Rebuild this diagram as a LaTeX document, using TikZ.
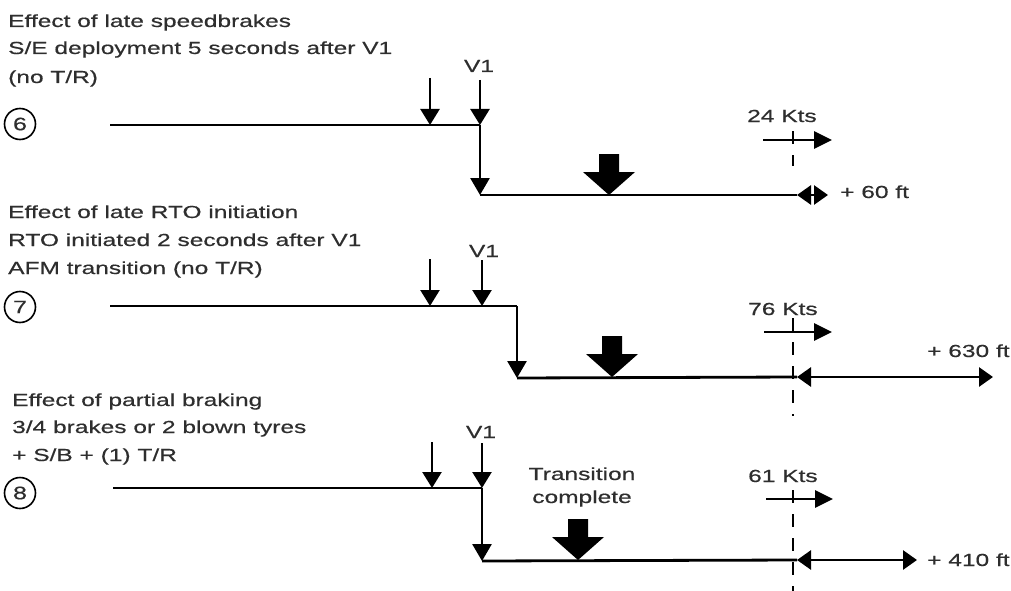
\documentclass[tikz,border=0pt]{standalone}
\usepackage{fontspec}
\setmainfont[FakeStretch=1.4,FakeBold=0.5]{Liberation Sans}
\usetikzlibrary{arrows.meta}
\begin{document}
\begin{tikzpicture}[x=1pt,y=-1pt,
  lbl/.style={font=\fontsize{17.5}{28}\selectfont, text=black!82, inner sep=0pt},
  track/.style={line width=2.8pt},
  downarrow/.style={line width=2.4pt, -{Triangle[width=19pt,length=16pt]}},
  turnarrow/.style={line width=2.8pt, -{Triangle[width=19pt,length=17pt]}},
  ktsarrow/.style={line width=2.8pt, -{Triangle[width=17pt,length=18pt]}},
  dimarrow/.style={line width=2.8pt, {Triangle[width=19pt,length=14pt]}-{Triangle[width=19pt,length=14pt]}},
  dashline/.style={line width=2.6pt, dash pattern=on 13pt off 11pt},
  numcircle/.style={circle, draw, line width=1.6pt, minimum size=31pt, inner sep=0pt, font=\fontsize{18}{18}\selectfont, text=black!82},
  blockarrow/.pic={\fill (-10,-41) -- (10,-41) -- (10,-23) -- (26,-23) -- (0,0) -- (-26,-23) -- (-10,-23) -- cycle;}
]
\useasboundingbox (0,0) rectangle (1011,591);

% ---------------- Panel 6 ----------------
\node[lbl, anchor=base west] (t6a) at (8,27) {Effect of late speedbrakes};
\node[lbl, anchor=base west] (t6b) at (8,54) {S/E deployment 5 seconds after V1};
\node[lbl, anchor=base west] (t6c) at (8,83) {(no T/R)};
\node[numcircle] (c6) at (20,124) {6};
\coordinate (s6) at (110,125);
\coordinate (k6) at (480,125);
\coordinate (b6) at (480,195);
\coordinate (e6) at (797,195);
\coordinate (d6) at (828,195);
\draw[track] (s6) -- (k6);
\draw[turnarrow] (k6) -- (b6);
\draw[track] (b6) -- (e6);
\coordinate (p6) at (430,78);
\coordinate (q6) at (430,125);
\draw[downarrow] (p6) -- (q6);
\coordinate (v6) at (480,80);
\draw[downarrow] (v6) -- (k6);
\node[lbl, anchor=base] (V6) at (479,72) {V1};
\pic at (609,195) {blockarrow};
\node[lbl, anchor=base west] (k6l) at (747,122) {24 Kts};
\coordinate (ka6) at (763,140);
\coordinate (kb6) at (832,140);
\draw[ktsarrow] (ka6) -- (kb6);
\coordinate (da6) at (793,131);
\coordinate (db6) at (793,166);
\draw[dashline] (da6) -- (db6);
\draw[dimarrow] (e6) -- (d6);
\node[lbl, anchor=base west] (f6) at (840,198) {+ 60 ft};

% ---------------- Panel 7 ----------------
\node[lbl, anchor=base west] (t7a) at (8,218) {Effect of late RTO initiation};
\node[lbl, anchor=base west] (t7b) at (8,246) {RTO initiated 2 seconds after V1};
\node[lbl, anchor=base west] (t7c) at (8,274) {AFM transition (no T/R)};
\node[numcircle] (c7) at (20,307) {7};
\coordinate (s7) at (110,306);
\coordinate (k7) at (517,306);
\coordinate (b7) at (517,378);
\coordinate (e7) at (797,377);
\coordinate (d7) at (993,377);
\draw[track] (s7) -- (k7);
\draw[turnarrow] (k7) -- (b7);
\draw[track] (b7) -- (e7);
\coordinate (p7) at (430,259);
\coordinate (q7) at (430,306);
\draw[downarrow] (p7) -- (q7);
\coordinate (v7) at (482,260);
\coordinate (w7) at (482,306);
\draw[downarrow] (v7) -- (w7);
\node[lbl, anchor=base] (V7) at (484,257) {V1};
\pic at (612,377) {blockarrow};
\node[lbl, anchor=base west] (k7l) at (748,315) {76 Kts};
\coordinate (ka7) at (764,332);
\coordinate (kb7) at (832,332);
\draw[ktsarrow] (ka7) -- (kb7);
\coordinate (da7) at (793,318);
\coordinate (db7) at (793,416);
\draw[dashline] (da7) -- (db7);
\draw[dimarrow] (e7) -- (d7);
\node[lbl, anchor=base west] (f7) at (927,357) {+ 630 ft};

% ---------------- Panel 8 ----------------
\node[lbl, anchor=base west] (t8a) at (12,406) {Effect of partial braking};
\node[lbl, anchor=base west] (t8b) at (12,433) {3/4 brakes or 2 blown tyres};
\node[lbl, anchor=base west] (t8c) at (12,461) {+ S/B + (1) T/R};
\node[numcircle] (c8) at (20,493) {8};
\coordinate (s8) at (113,488);
\coordinate (k8) at (482,488);
\coordinate (b8) at (482,561);
\coordinate (e8) at (797,560);
\coordinate (d8) at (917,560);
\draw[track] (s8) -- (k8);
\draw[turnarrow] (k8) -- (b8);
\draw[track] (b8) -- (e8);
\coordinate (p8) at (432,442);
\coordinate (q8) at (432,488);
\draw[downarrow] (p8) -- (q8);
\coordinate (v8) at (482,443);
\draw[downarrow] (v8) -- (k8);
\node[lbl, anchor=base] (V8) at (481,438) {V1};
\node[lbl, anchor=base] (tr8a) at (582,480) {Transition};
\node[lbl, anchor=base] (tr8b) at (582,503) {complete};
\pic at (578,560) {blockarrow};
\node[lbl, anchor=base west] (k8l) at (748,482) {61 Kts};
\coordinate (ka8) at (766,499);
\coordinate (kb8) at (833,499);
\draw[ktsarrow] (ka8) -- (kb8);
\coordinate (da8) at (793,490);
\coordinate (db8) at (793,591);
\draw[dashline] (da8) -- (db8);
\draw[dimarrow] (e8) -- (d8);
\node[lbl, anchor=base west] (f8) at (927,566) {+ 410 ft};
\end{tikzpicture}
\end{document}
